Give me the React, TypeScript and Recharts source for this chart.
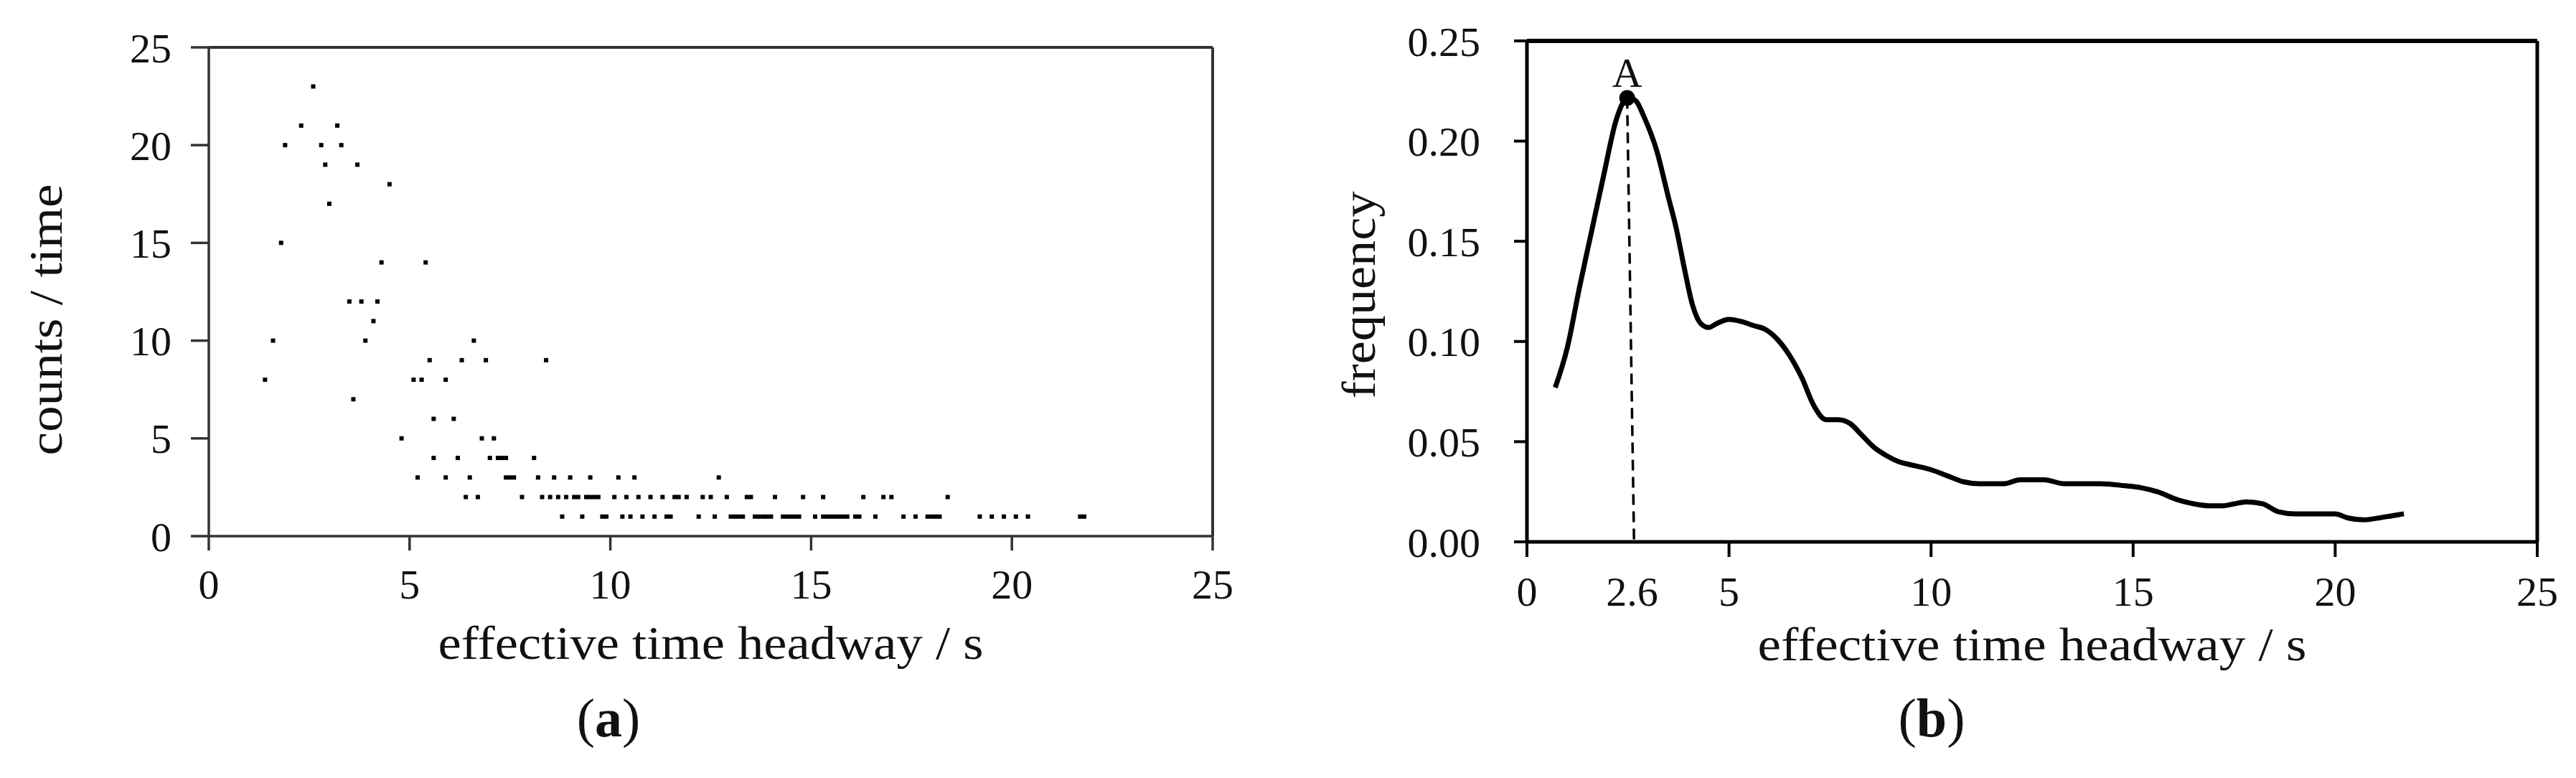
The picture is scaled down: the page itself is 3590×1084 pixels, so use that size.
import {
  ScatterChart,
  Scatter,
  LineChart,
  Line,
  XAxis,
  YAxis,
  ReferenceLine,
  ReferenceDot,
  Label,
} from "recharts"

const SERIF = '"Liberation Serif", "DejaVu Serif", serif'
const INK = "#111"

// (a) counts / time: one list of effective headways (s) per count level
const countLevels = [1, 2, 3, 4, 5, 6, 7, 8, 9, 10, 11, 12, 14, 15, 17, 18, 19, 20, 21, 23]
const headwaysAt1 = [
  8.8, 9.3, 9.8, 9.9, 10.3, 10.5, 10.8, 11.1, 11.4, 11.5, 12.2, 12.6, 13.0, 13.1, 13.2, 13.3,
  13.6, 13.7, 13.8, 13.9, 14.0, 14.3, 14.4, 14.5, 14.6, 14.7, 15.1, 15.3, 15.4, 15.5, 15.6,
  15.7, 15.8, 15.9, 16.1, 16.2, 16.6, 17.3, 17.6, 17.9, 18.0, 18.1, 18.2, 19.2, 19.5, 19.8,
  20.1, 20.4, 21.7, 21.8,
]
const headwaysAt2 = [
  6.4, 6.7, 7.8, 8.3, 8.5, 8.7, 8.9, 9.1, 9.2, 9.4, 9.5, 9.6, 9.7, 10.1, 10.4, 10.7, 11.0,
  11.3, 11.6, 11.7, 11.9, 12.3, 12.5, 12.9, 13.4, 13.5, 14.1, 14.8, 15.3, 16.3, 16.8, 17.0, 18.4,
]
const headwaysAt3 = [5.2, 5.9, 6.5, 7.4, 7.5, 7.6, 8.2, 8.6, 9.0, 9.5, 10.2, 10.6, 12.7]
const headwaysAt4 = [5.6, 6.2, 7.0, 7.2, 7.3, 7.4, 8.1]
const headwaysAt5 = [4.8, 6.8, 7.1]
const headwaysAt6 = [5.6, 6.1]
const headwaysAt7 = [3.6]
const headwaysAt8 = [1.4, 5.1, 5.3, 5.9]
const headwaysAt9 = [5.5, 6.3, 6.9, 8.4]
const headwaysAt10 = [1.6, 3.9, 6.6]
const headwaysAt11 = [4.1]
const headwaysAt12 = [3.5, 3.8, 4.2]
const headwaysAt14 = [4.3, 5.4]
const headwaysAt15 = [1.8]
const headwaysAt17 = [3.0]
const headwaysAt18 = [4.5]
const headwaysAt19 = [2.9, 3.7]
const headwaysAt20 = [1.9, 2.8, 3.3]
const headwaysAt21 = [2.3, 3.2]
const headwaysAt23 = [2.6]

const headwaysByLevel = [
  headwaysAt1, headwaysAt2, headwaysAt3, headwaysAt4, headwaysAt5, headwaysAt6, headwaysAt7,
  headwaysAt8, headwaysAt9, headwaysAt10, headwaysAt11, headwaysAt12, headwaysAt14, headwaysAt15,
  headwaysAt17, headwaysAt18, headwaysAt19, headwaysAt20, headwaysAt21, headwaysAt23,
]

const scatterPoints = countLevels.flatMap((count, i) =>
  headwaysByLevel[i].map((x) => ({ x, y: count }))
)

// (b) frequency of effective time headway
const headwayGrid = [
  0.7, 1.0, 1.3, 1.6, 1.9, 2.2, 2.4, 2.5, 2.7, 2.9, 3.2, 3.5, 3.7, 3.9, 4.1, 4.3, 4.5, 4.7, 5.0,
  5.3, 5.6, 5.9, 6.2, 6.5, 6.8, 7.1, 7.4, 7.7, 8.0, 8.3, 8.6, 8.9, 9.2, 9.6, 10.0, 10.4, 10.8,
  11.2, 11.8, 12.2, 12.8, 13.3, 14.2, 14.8, 15.2, 15.6, 16.1, 16.5, 16.9, 17.2, 17.5, 17.8,
  18.2, 18.6, 19.0, 19.5, 20.0, 20.3, 20.7, 21.1, 21.4, 21.7,
]
const frequency = [
  0.077, 0.097, 0.127, 0.155, 0.183, 0.21, 0.22, 0.222, 0.22, 0.212, 0.196, 0.172, 0.156, 0.136,
  0.118, 0.109, 0.107, 0.109, 0.111, 0.11, 0.108, 0.106, 0.101, 0.093, 0.082, 0.068, 0.061,
  0.061, 0.059, 0.053, 0.047, 0.043, 0.04, 0.038, 0.036, 0.033, 0.03, 0.029, 0.029, 0.031,
  0.031, 0.029, 0.029, 0.028, 0.027, 0.025, 0.021, 0.019, 0.018, 0.018, 0.019, 0.02, 0.019,
  0.015, 0.014, 0.014, 0.014, 0.012, 0.011, 0.012, 0.013, 0.014,
]
const curve = headwayGrid.map((x, i) => ({ x, f: frequency[i] }))

const peakHeadway = 2.48
const peakFrequency = 0.2215
const peakFootHeadway = 2.65

const countTicks = [0, 5, 10, 15, 20, 25]
const headwayTicksA = [0, 5, 10, 15, 20, 25]
const headwayTicksB = [0, 2.6, 5, 10, 15, 20, 25]
const frequencyTicks = [0, 0.05, 0.1, 0.15, 0.2, 0.25]

const tickFont = { fontSize: 58, fontFamily: SERIF, fill: INK }

function SquareDot(props: any) {
  const { cx, cy } = props
  return <rect x={cx - 3} y={cy - 3} width={6} height={6} fill="#000" />
}

function XTitle({ viewBox, text, dy, length }: any) {
  const { x, y, width } = viewBox
  return (
    <text
      x={x + width / 2}
      y={y + dy}
      textAnchor="middle"
      textLength={length}
      lengthAdjust="spacingAndGlyphs"
      fontFamily={SERIF}
      fontSize={66}
      fill={INK}
    >
      {text}
    </text>
  )
}

function YTitle({ viewBox, text, baseX, dy, length }: any) {
  const { y, height } = viewBox
  const cy = y + height / 2 + dy
  return (
    <text
      x={baseX}
      y={cy}
      transform={`rotate(-90, ${baseX}, ${cy})`}
      textAnchor="middle"
      textLength={length}
      lengthAdjust="spacingAndGlyphs"
      fontFamily={SERIF}
      fontSize={66}
      fill={INK}
    >
      {text}
    </text>
  )
}

const B_TICK = 21
const B_MARGIN = 27

function HeadwayTickB(props: any) {
  const { x, y, payload } = props
  const axisY = y - B_TICK - B_MARGIN
  return (
    <g>
      {payload.value !== 2.6 && (
        <line x1={x} x2={x} y1={axisY} y2={axisY + B_TICK} stroke="#000" strokeWidth={4} />
      )}
      <text x={x} y={y} dy="0.71em" textAnchor="middle" {...tickFont}>
        {payload.value}
      </text>
    </g>
  )
}

function CountsChart() {
  const axis = { stroke: "#333", strokeWidth: 3.5 }
  return (
    <ScatterChart width={1795} height={1084} margin={{ top: 66, right: 105, bottom: 237, left: 0 }}>
      <XAxis
        type="number"
        dataKey="x"
        domain={[0, 25]}
        ticks={headwayTicksA}
        interval={0}
        height={100}
        tickSize={20}
        tickMargin={26}
        axisLine={axis}
        tickLine={axis}
        tick={tickFont}
      >
        <Label
          content={(p: any) => (
            <XTitle {...p} text="effective time headway / s" dy={171} length={760} />
          )}
        />
      </XAxis>
      <YAxis
        type="number"
        dataKey="y"
        domain={[0, 25]}
        ticks={countTicks}
        interval={0}
        width={291}
        tickSize={25}
        tickMargin={27}
        axisLine={axis}
        tickLine={axis}
        tick={tickFont}
      >
        <Label
          content={(p: any) => (
            <YTitle {...p} text="counts / time" baseX={86} dy={39} length={378} />
          )}
        />
      </YAxis>
      <ReferenceLine y={25} stroke="#333" strokeWidth={4} />
      <ReferenceLine x={25} stroke="#333" strokeWidth={4} />
      <Scatter data={scatterPoints} shape={SquareDot} isAnimationActive={false} />
    </ScatterChart>
  )
}

function FrequencyChart() {
  const axis = { stroke: "#000", strokeWidth: 5 }
  return (
    <LineChart
      width={1795}
      height={1084}
      data={curve}
      margin={{ top: 57, right: 54, bottom: 229, left: 0 }}
    >
      <XAxis
        type="number"
        dataKey="x"
        domain={[0, 25]}
        ticks={headwayTicksB}
        interval={0}
        height={100}
        tickSize={B_TICK}
        tickMargin={B_MARGIN}
        axisLine={axis}
        tickLine={false}
        tick={HeadwayTickB}
      >
        <Label
          content={(p: any) => (
            <XTitle {...p} text="effective time headway / s" dy={165} length={765} />
          )}
        />
      </XAxis>
      <YAxis
        type="number"
        domain={[0, 0.25]}
        ticks={frequencyTicks}
        interval={0}
        width={333}
        tickSize={18}
        tickMargin={47}
        axisLine={axis}
        tickLine={{ stroke: "#000", strokeWidth: 4 }}
        tick={tickFont}
        tickFormatter={(v: number) => v.toFixed(2)}
      >
        <Label
          content={(p: any) => (
            <YTitle {...p} text="frequency" baseX={121} dy={5} length={289} />
          )}
        />
      </YAxis>
      <ReferenceLine y={0.25} stroke="#000" strokeWidth={6} />
      <ReferenceLine x={25} stroke="#000" strokeWidth={5} />
      <ReferenceLine
        segment={[
          { x: peakHeadway, y: peakFrequency },
          { x: peakFootHeadway, y: 0 },
        ]}
        stroke="#000"
        strokeWidth={3.5}
        strokeDasharray="15 9"
      />
      <Line
        type="monotone"
        dataKey="f"
        stroke="#000"
        strokeWidth={7}
        dot={false}
        isAnimationActive={false}
      />
      <ReferenceDot
        x={peakHeadway}
        y={peakFrequency}
        r={11}
        fill="#000"
        stroke="none"
        label={{ value: "A", position: "top", offset: 5, fontSize: 58, fontFamily: SERIF, fill: INK }}
      />
    </LineChart>
  )
}

export default function App() {
  return (
    <div
      style={{
        position: "absolute",
        left: 0,
        top: 0,
        width: 3590,
        height: 1084,
        overflow: "hidden",
        background: "#fff",
      }}
    >
      <div style={{ position: "absolute", left: 0, top: 0 }}>
        <CountsChart />
      </div>
      <div style={{ position: "absolute", left: 1795, top: 0 }}>
        <FrequencyChart />
      </div>
      <svg
        width={3590}
        height={1084}
        style={{ position: "absolute", left: 0, top: 0, pointerEvents: "none" }}
      >
        <text x={848} y={1026} textAnchor="middle" fontFamily={SERIF} fontSize={76} fill={INK}>
          (<tspan fontWeight="bold">a</tspan>)
        </text>
        <text x={2692} y={1026} textAnchor="middle" fontFamily={SERIF} fontSize={76} fill={INK}>
          (<tspan fontWeight="bold">b</tspan>)
        </text>
      </svg>
    </div>
  )
}
